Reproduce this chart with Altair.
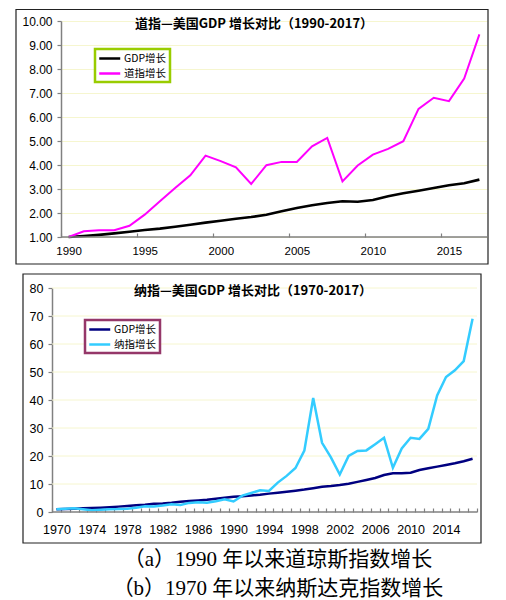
import altair as alt
import pandas as pd

# ---------------- data ----------------
dow_years = list(range(1990, 2018))
dow_gdp = [1.00, 1.04, 1.09, 1.15, 1.22, 1.29, 1.35, 1.43, 1.51, 1.60, 1.68, 1.76, 1.83, 1.93,
           2.07, 2.21, 2.32, 2.42, 2.49, 2.47, 2.54, 2.70, 2.82, 2.93, 3.04, 3.16, 3.24, 3.39]
dow_index = [1.00, 1.24, 1.28, 1.28, 1.47, 1.93, 2.49, 3.04, 3.57, 4.39, 4.16, 3.90, 3.21, 3.99,
             4.13, 4.13, 4.78, 5.13, 3.32, 3.98, 4.43, 4.67, 4.99, 6.34, 6.80, 6.66, 7.60, 9.44]
dow_series = ["GDP增长", "道指增长"]
dow_title = "道指—美国GDP 增长对比（1990-2017）"
dow_y_ticks = [1, 2, 3, 4, 5, 6, 7, 8, 9, 10]
dow_x_labels = [1990, 1995, 2000, 2005, 2010, 2015]

nas_years = list(range(1970, 2018))
nas_gdp = [1.00, 1.08, 1.18, 1.32, 1.44, 1.56, 1.73, 1.92, 2.17, 2.42, 2.62, 2.93, 3.03, 3.29,
           3.63, 3.90, 4.12, 4.37, 4.72, 5.08, 5.43, 5.60, 5.92, 6.20, 6.56, 6.86, 7.22, 7.62,
           8.00, 8.47, 8.98, 9.26, 9.62, 10.10, 10.75, 11.45, 12.15, 13.20, 13.80, 13.80, 14.00,
           15.00, 15.60, 16.20, 16.80, 17.40, 18.10, 19.00]
nas_index = [1.00, 1.15, 1.35, 0.95, 0.62, 0.80, 1.00, 1.06, 1.20, 1.52, 2.03, 1.97, 2.33, 2.80,
             2.48, 3.25, 3.50, 3.32, 3.82, 4.55, 3.75, 5.85, 6.78, 7.78, 7.52, 10.5, 12.9, 15.7,
             21.9, 40.7, 24.7, 19.5, 13.4, 20.0, 21.8, 22.0, 24.2, 26.5, 15.8, 22.7, 26.5, 26.1,
             29.7, 41.6, 48.2, 50.6, 53.9, 69.0]
nas_series = ["GDP增长", "纳指增长"]
nas_title = "纳指—美国GDP 增长对比（1970-2017）"
nas_y_ticks = [0, 10, 20, 30, 40, 50, 60, 70, 80]
nas_x_labels = [1970, 1974, 1978, 1982, 1986, 1990, 1994, 1998, 2002, 2006, 2010, 2014]

caption_a = "（a）1990 年以来道琼斯指数增长"
caption_b = "（b）1970 年以来纳斯达克指数增长"

# ---------------- style ----------------
AX_FONT = "Liberation Sans"
CJK = "Noto Sans CJK SC"
GRID = "#f6f6cf"
AXC = "#808080"
LEG_SYMBOL = "M-1,0L3,0"

dow_df = pd.DataFrame({
    "year": dow_years * 2,
    "value": dow_gdp + dow_index,
    "series": [dow_series[0]] * len(dow_years) + [dow_series[1]] * len(dow_years),
})
nas_df = pd.DataFrame({
    "year": nas_years * 2,
    "value": nas_gdp + nas_index,
    "series": [nas_series[0]] * len(nas_years) + [nas_series[1]] * len(nas_years),
})
one = pd.DataFrame({"k": [0]})


def legend(x, y, stroke):
    return alt.Legend(orient="none", legendX=x, legendY=y, title=None,
                      strokeColor=stroke, fillColor="white", padding=3,
                      symbolType=LEG_SYMBOL, symbolStrokeWidth=2.5, symbolSize=110,
                      labelFont=CJK, labelFontSize=10.5, labelOffset=13,
                      rowPadding=3, labelColor="black")


# ================= top chart =================
W1, H1 = 426, 216
step1 = W1 / len(dow_years)
x1 = alt.X("year:Q",
           scale=alt.Scale(domain=[dow_years[0] - 0.5, dow_years[-1] + 0.5], nice=False, zero=False),
           axis=alt.Axis(values=[v - 0.5 for v in dow_x_labels],
                         labelExpr="format(datum.value + 0.5, 'd')",
                         labelOffset=step1 / 2, offset=-4, tickSize=4, tickColor=AXC, tickWidth=1.2,
                         domain=False, grid=False, title=None, labelPadding=8,
                         labelFont=AX_FONT, labelFontSize=11.5, labelColor="black",
                         labelFlush=False, labelOverlap=False))
y1 = alt.Y("value:Q",
           scale=alt.Scale(domain=[1, 10], nice=False, zero=False),
           axis=alt.Axis(values=dow_y_ticks, format=".2f", tickSize=4, tickColor=AXC, tickWidth=1.2,
                         domainColor=AXC, domainWidth=1.5, labelPadding=5,
                         grid=True, gridColor=GRID, gridWidth=1, title=None,
                         labelFont=AX_FONT, labelFontSize=12, labelColor="black"))

frame1 = alt.Chart(one).mark_rect(filled=False, stroke="#222222", strokeWidth=1.2).encode(
    x=alt.value(-45), x2=alt.value(427), y=alt.value(-11.5), y2=alt.value(243))

lines1 = alt.Chart(dow_df).mark_line().encode(
    x=x1, y=y1,
    color=alt.Color("series:N",
                    scale=alt.Scale(domain=dow_series, range=["#000000", "#ff00ff"]),
                    sort=dow_series, legend=legend(34, 28, "#99cc00")),
    strokeWidth=alt.StrokeWidth("series:N", scale=alt.Scale(domain=dow_series, range=[2.6, 2.0]),
                                legend=None),
)

xdom1 = alt.Chart(one).mark_rule(color=AXC, strokeWidth=1.5).encode(
    x=alt.value(0), x2=alt.value(W1), y=alt.value(H1))

title1 = alt.Chart(pd.DataFrame({"t": [dow_title]})).mark_text(
    font=CJK, fontSize=13, fontWeight="bold", color="black", baseline="middle", align="center"
).encode(text="t:N", x=alt.value(193), y=alt.value(3))

top = alt.layer(frame1, lines1, xdom1, title1).properties(width=W1, height=H1)

# ================= bottom chart =================
W2, H2 = 425, 224
SH = 9  # plot area of the lower chart starts further left
step2 = W2 / len(nas_years)
lab_list = ",".join(str(v) for v in nas_x_labels)
x2 = alt.X("year:Q",
           scale=alt.Scale(domain=[nas_years[0] - 0.5, nas_years[-1] + 0.5], range=[-SH, W2 - SH],
                           nice=False, zero=False),
           axis=alt.Axis(values=[v - 0.5 for v in nas_years] + [nas_years[-1] + 0.5],
                         labelExpr="indexof([" + lab_list + "], datum.value + 0.5) >= 0 ? format(datum.value + 0.5, 'd') : ''",
                         labelOffset=step2 / 2, offset=-4, tickSize=4, tickColor=AXC, tickWidth=1.2,
                         domain=False, grid=False, title=None, labelPadding=11.5,
                         labelFont=AX_FONT, labelFontSize=12.5, labelColor="black",
                         labelFlush=False, labelOverlap=False))
y2 = alt.Y("value:Q",
           scale=alt.Scale(domain=[0, 80], nice=False, zero=False),
           axis=alt.Axis(values=nas_y_ticks, tickSize=4, tickColor=AXC, tickWidth=1.2,
                         domainColor=AXC, domainWidth=1.5, labelPadding=5, offset=SH,
                         grid=False, title=None,
                         labelFont=AX_FONT, labelFontSize=12.5, labelColor="black"))

frame2 = alt.Chart(one).mark_rect(filled=False, stroke="#222222", strokeWidth=1.2).encode(
    x=alt.value(-38), x2=alt.value(420), y=alt.value(-14), y2=alt.value(255))

grid2 = alt.Chart(pd.DataFrame({"value": nas_y_ticks[1:]})).mark_rule(color=GRID, strokeWidth=1).encode(
    y=y2, x=alt.value(-SH), x2=alt.value(W2 - SH))

lines2 = alt.Chart(nas_df).mark_line(strokeWidth=2.5).encode(
    x=x2, y=y2,
    color=alt.Color("series:N",
                    scale=alt.Scale(domain=nas_series, range=["#000080", "#33ccff"]),
                    sort=nas_series, legend=legend(24, 32, "#953769")),
)

xdom2 = alt.Chart(one).mark_rule(color=AXC, strokeWidth=1.5).encode(
    x=alt.value(-SH), x2=alt.value(W2 - SH), y=alt.value(H2))

title2 = alt.Chart(pd.DataFrame({"t": [nas_title]})).mark_text(
    font=CJK, fontSize=13, fontWeight="bold", color="black", baseline="middle", align="center"
).encode(text="t:N", x=alt.value(192), y=alt.value(3))

CAP_FONT = "Liberation Serif, Noto Sans CJK SC"
cap_a = alt.Chart(pd.DataFrame({"t": [caption_a]})).mark_text(
    font=CAP_FONT, fontSize=21, color="black", baseline="middle", align="center"
).encode(text="t:N", x=alt.value(217), y=alt.value(272))
cap_b = alt.Chart(pd.DataFrame({"t": [caption_b]})).mark_text(
    font=CAP_FONT, fontSize=21, color="black", baseline="middle", align="center"
).encode(text="t:N", x=alt.value(217), y=alt.value(301))

bottom = alt.layer(frame2, grid2, lines2, xdom2, title2, cap_a, cap_b).properties(width=W2, height=H2)

chart = alt.vconcat(top, bottom, spacing=51, bounds="flush").properties(
    padding={"left": 7, "top": 0, "right": 0, "bottom": 0}
).resolve_scale(color="independent").configure_view(stroke=None).configure_legend(strokeWidth=2.5)

chart.save("out.html", embed_options={"renderer": "svg", "actions": False})
